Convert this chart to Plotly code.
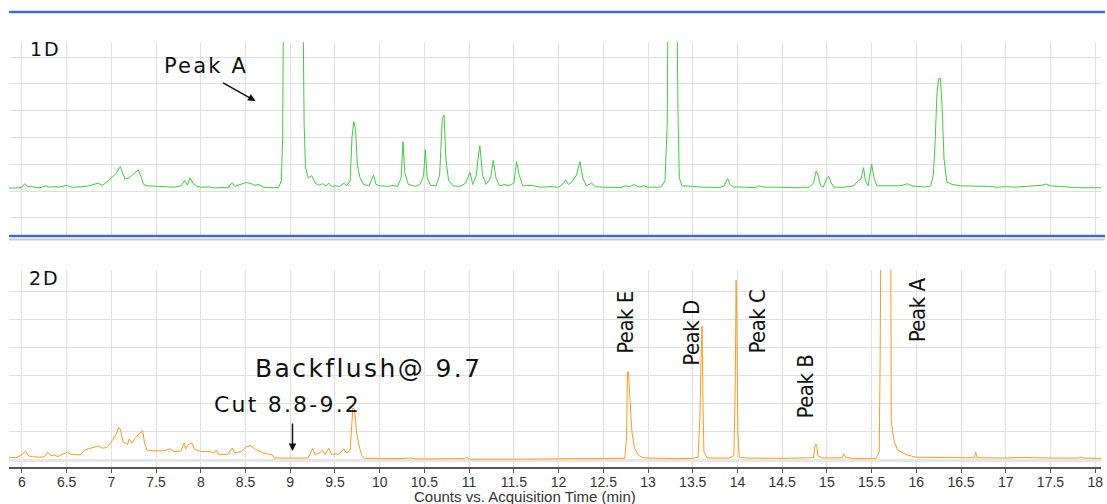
import plotly.graph_objects as go

# ---------------- data ----------------
# 1D chromatogram: time (min) and response (arbitrary units, gridline = 1)
t1 = [5.855, 5.95, 6.0, 6.03, 6.06, 6.12, 6.2, 6.27, 6.3, 6.36, 6.42, 6.5, 6.55, 6.65, 6.75, 6.85,
      6.9, 6.95, 7.0, 7.05, 7.1, 7.12, 7.15, 7.2, 7.25, 7.3, 7.33, 7.36, 7.4, 7.5, 7.6, 7.7,
      7.78, 7.82, 7.85, 7.88, 7.91, 7.95, 8.0, 8.1, 8.15, 8.25, 8.3, 8.35, 8.38, 8.45, 8.5, 8.55,
      8.6, 8.65, 8.7, 8.8, 8.87, 8.9, 8.915, 8.925, 9.14, 9.155, 9.17, 9.2, 9.24, 9.28, 9.32, 9.36,
      9.4, 9.43, 9.46, 9.5, 9.55, 9.6, 9.63, 9.67, 9.69, 9.71, 9.73, 9.75, 9.78, 9.82, 9.88, 9.93,
      9.96, 10.0, 10.1, 10.15, 10.2, 10.24, 10.26, 10.28, 10.32, 10.4, 10.45, 10.49, 10.51, 10.53,
      10.57, 10.63, 10.67, 10.7, 10.72, 10.74, 10.77, 10.82, 10.9, 10.96, 11.01, 11.04, 11.08, 11.11,
      11.12, 11.15, 11.19, 11.24, 11.27, 11.3, 11.34, 11.4, 11.44, 11.5, 11.53, 11.56, 11.6, 11.7,
      11.8, 11.9, 12.0, 12.05, 12.08, 12.11, 12.15, 12.2, 12.24, 12.27, 12.31, 12.37, 12.41, 12.5,
      12.6, 12.7, 12.75, 12.8, 12.84, 12.9, 12.95, 13.0, 13.1, 13.15, 13.19, 13.215, 13.225, 13.32,
      13.335, 13.35, 13.38, 13.45, 13.5, 13.6, 13.7, 13.8, 13.85, 13.89, 13.92, 13.96, 14.0, 14.1,
      14.2, 14.24, 14.3, 14.4, 14.5, 14.6, 14.7, 14.8, 14.85, 14.88, 14.9, 14.93, 14.96, 15.0,
      15.02, 15.05, 15.08, 15.15, 15.2, 15.3, 15.35, 15.38, 15.41, 15.43, 15.46, 15.5, 15.53, 15.56,
      15.6, 15.7, 15.8, 15.85, 15.9, 15.95, 16.0, 16.1, 16.16, 16.19, 16.21, 16.23, 16.25, 16.27,
      16.29, 16.31, 16.34, 16.4, 16.5, 16.6, 16.7, 16.8, 16.9, 17.0, 17.1, 17.3, 17.4, 17.45,
      17.5, 17.6, 17.7, 17.8, 18.0, 18.065]
v1 = [1.12, 1.12, 1.15, 1.28, 1.18, 1.15, 1.13, 1.2, 1.15, 1.17, 1.15, 1.22, 1.15, 1.16, 1.2, 1.3,
      1.22, 1.35, 1.5, 1.65, 1.92, 1.75, 1.45, 1.5, 1.65, 1.8, 1.55, 1.25, 1.2, 1.18, 1.17, 1.15,
      1.2, 1.4, 1.22, 1.5, 1.3, 1.2, 1.15, 1.16, 1.12, 1.14, 1.12, 1.32, 1.18, 1.25, 1.32, 1.3,
      1.22, 1.25, 1.15, 1.13, 1.14, 1.4, 3.0, 9.0, 9.0, 3.5, 1.9, 1.5, 1.58, 1.3, 1.22, 1.28,
      1.2, 1.3, 1.18, 1.2, 1.18, 1.3, 1.2, 1.4, 3.0, 3.6, 3.3, 2.0, 1.5, 1.25, 1.2, 1.6,
      1.25, 1.2, 1.18, 1.22, 1.18, 1.5, 2.85, 1.7, 1.25, 1.18, 1.25, 1.55, 2.55, 1.5,
      1.22, 1.2, 1.6, 3.7, 3.85, 2.2, 1.4, 1.2, 1.18, 1.3, 1.7, 1.25, 1.6, 2.5,
      2.7, 1.6, 1.25, 1.5, 2.15, 1.5, 1.2, 1.25, 1.2, 1.3, 2.1, 1.6, 1.2, 1.22,
      1.15, 1.17, 1.15, 1.28, 1.42, 1.25, 1.35, 1.6, 2.1, 1.5, 1.2, 1.3, 1.17, 1.15,
      1.15, 1.14, 1.2, 1.16, 1.25, 1.15, 1.2, 1.15, 1.15, 1.16, 1.4, 3.5, 9.0, 9.0,
      4.0, 1.5, 1.2, 1.2, 1.18, 1.15, 1.15, 1.14, 1.2, 1.47, 1.25, 1.15, 1.16, 1.15,
      1.13, 1.2, 1.15, 1.15, 1.14, 1.13, 1.13, 1.15, 1.3, 1.75, 1.6, 1.2, 1.15, 1.5,
      1.55, 1.3, 1.15, 1.15, 1.15, 1.2, 1.4, 1.45, 1.88, 1.4, 1.2, 2.0, 1.45, 1.2,
      1.2, 1.19, 1.2, 1.22, 1.28, 1.2, 1.18, 1.15, 1.2, 1.6, 2.8, 4.6, 5.2, 5.2,
      4.0, 2.2, 1.35, 1.25, 1.2, 1.2, 1.18, 1.18, 1.15, 1.17, 1.15, 1.18, 1.22, 1.27,
      1.2, 1.18, 1.15, 1.13, 1.13, 1.13]

# 2D chromatogram
t2 = [5.855, 5.95, 6.0, 6.04, 6.07, 6.12, 6.2, 6.25, 6.29, 6.32, 6.36, 6.4, 6.45, 6.51, 6.55, 6.65,
      6.7, 6.75, 6.8, 6.85, 6.9, 6.95, 7.0, 7.05, 7.08, 7.1, 7.13, 7.18, 7.2, 7.23, 7.27, 7.32,
      7.35, 7.37, 7.4, 7.5, 7.6, 7.65, 7.7, 7.78, 7.81, 7.83, 7.86, 7.9, 7.93, 8.0, 8.1, 8.15,
      8.17, 8.2, 8.3, 8.35, 8.38, 8.45, 8.5, 8.55, 8.6, 8.7, 8.8, 8.82, 9.2, 9.25, 9.28, 9.33,
      9.36, 9.39, 9.43, 9.46, 9.55, 9.6, 9.63, 9.67, 9.69, 9.7, 9.72, 9.74, 9.77, 9.8, 9.83, 10.0,
      10.1, 10.2, 10.35, 10.4, 10.6, 10.95, 10.97, 11.0, 11.5, 12.15, 12.4, 12.6, 12.74, 12.76,
      12.77, 12.78, 12.79, 12.8, 12.82, 12.85, 12.9, 12.95, 13.0, 13.3, 13.5, 13.56, 13.58, 13.595,
      13.605, 13.615, 13.625, 13.66, 13.9, 13.96, 13.975, 13.985, 13.995, 14.005, 14.02, 14.1, 14.5, 14.85,
      14.87, 14.885, 14.9, 14.95, 15.05, 15.17, 15.19, 15.21, 15.3, 15.55, 15.585, 15.595, 15.61, 15.71,
      15.72, 15.75, 15.79, 15.88, 15.99, 16.3, 16.65, 16.665, 16.68, 17.0, 17.15, 17.5, 17.82, 17.84,
      17.86, 18.065]
v2 = [0.08, 0.1, 0.2, 0.32, 0.15, 0.12, 0.1, 0.12, 0.28, 0.15, 0.18, 0.12, 0.2, 0.28, 0.2, 0.18,
      0.35, 0.4, 0.45, 0.5, 0.42, 0.45, 0.65, 0.9, 1.15, 1.1, 0.65, 0.55, 0.75, 0.6, 0.8, 0.95,
      1.05, 0.6, 0.35, 0.32, 0.33, 0.4, 0.3, 0.32, 0.6, 0.4, 0.55, 0.6, 0.38, 0.3, 0.3, 0.25,
      0.35, 0.2, 0.2, 0.42, 0.25, 0.3, 0.45, 0.52, 0.4, 0.25, 0.18, 0.07, 0.07, 0.4, 0.2, 0.25,
      0.35, 0.2, 0.42, 0.2, 0.22, 0.4, 0.25, 0.35, 1.5, 1.85, 1.8, 1.0, 0.5, 0.15, 0.06, 0.05,
      0.04, 0.05, 0.07, 0.04, 0.04, 0.05, 0.1, 0.03, 0.03, 0.05, 0.06, 0.06, 0.06, 0.8,
      3.1, 3.15, 2.5, 2.0, 1.0, 0.4, 0.15, 0.08, 0.07, 0.05, 0.06, 0.1, 1.5, 3.8,
      4.77, 2.0, 0.3, 0.07, 0.07, 0.15, 2.5, 6.4, 4.5, 1.0, 0.1, 0.07, 0.06, 0.08,
      0.55, 0.55, 0.15, 0.07, 0.08, 0.08, 0.22, 0.1, 0.05, 0.05, 0.3, 3.4, 12.0, 12.0,
      1.36, 0.7, 0.36, 0.2, 0.1, 0.08, 0.08, 0.28, 0.08, 0.07, 0.09, 0.07, 0.07, 0.12,
      0.07, 0.06]

tick_vals = [6, 6.5, 7, 7.5, 8, 8.5, 9, 9.5, 10, 10.5, 11, 11.5, 12, 12.5, 13, 13.5, 14, 14.5,
             15, 15.5, 16, 16.5, 17, 17.5, 18]
tick_text = ["6", "6.5", "7", "7.5", "8", "8.5", "9", "9.5", "10", "10.5", "11", "11.5", "12",
             "12.5", "13", "13.5", "14", "14.5", "15", "15.5", "16", "16.5", "17", "17.5", "18"]

peak_labels = ["Peak E", "Peak D", "Peak C", "Peak B", "Peak A"]
peak_label_x = [12.741, 13.478, 14.214, 14.75, 16.011]
peak_label_y = [4.911, 4.52, 4.911, 2.598, 5.338]

# ---------------- figure ----------------
GREEN = "#3fcc3f"
ORANGE = "#ff9a1a"
GRID = "#e0e0e0"
BLUE = "#3a6cc6"

fig = go.Figure()
fig.add_trace(go.Scatter(x=t1, y=v1, mode="lines", line=dict(color=GREEN, width=1),
                         xaxis="x", yaxis="y", hoverinfo="skip", showlegend=False))
fig.add_trace(go.Scatter(x=t2, y=v2, mode="lines", line=dict(color=ORANGE, width=1),
                         xaxis="x2", yaxis="y2", hoverinfo="skip", showlegend=False))

xdom = [9 / 1107, 1103 / 1107]
xr = [5.855, 18.065]

def spaced(txt, sp):
    return '<span style="letter-spacing:%spx">%s</span>' % (sp, txt)

LABEL_FONT = "DejaVu Sans, Verdana, sans-serif"
NARROW_FONT = "DejaVu Sans Condensed, Liberation Sans, sans-serif"

annotations = [
    dict(x=6.268, y=6.29, xref="x", yref="y", text=spaced("1D", 2), showarrow=False,
         font=dict(family=LABEL_FONT, size=19, color="#111")),
    dict(x=6.257, y=6.48, xref="x2", yref="y2", text=spaced("2D", 2), showarrow=False,
         font=dict(family=LABEL_FONT, size=19, color="#111")),
    dict(x=8.054, y=5.672, xref="x", yref="y", text=spaced("Peak A", 2.2), showarrow=False,
         font=dict(family=LABEL_FONT, size=21, color="#111")),
    dict(x=8.612, y=4.366, xref="x", yref="y", ax=8.232, ay=5.075, axref="x", ayref="y",
         text="", showarrow=True, arrowhead=2, arrowsize=1, arrowwidth=1.5, arrowcolor="#111"),
    dict(x=9.873, y=3.274, xref="x2", yref="y2", text=spaced("Backflush@ 9.7", 2.4), showarrow=False,
         font=dict(family=LABEL_FONT, size=25, color="#111")),
    dict(x=8.974, y=1.975, xref="x2", yref="y2", text=spaced("Cut 8.8-9.2", 2.2), showarrow=False,
         font=dict(family=LABEL_FONT, size=22, color="#111")),
    dict(x=9.025, y=0.32, xref="x2", yref="y2", ax=9.025, ay=1.352, axref="x2", ayref="y2",
         text="", showarrow=True, arrowhead=2, arrowsize=1, arrowwidth=1.5, arrowcolor="#111"),
    dict(x=526 / 1107, y=1 - 496.5 / 504, xref="paper", yref="paper",
         xanchor="center", yanchor="middle",
         text="Counts vs. Acquisition Time (min)", showarrow=False,
         font=dict(family="Liberation Sans, Arial, sans-serif", size=15, color="#333")),
]
for lab, lx, ly in zip(peak_labels, peak_label_x, peak_label_y):
    annotations.append(dict(x=lx, y=ly, xref="x2", yref="y2", text=spaced(lab, -0.5), textangle=-90,
                            showarrow=False, xanchor="center", yanchor="middle",
                            font=dict(family=NARROW_FONT, size=22, color="#111")))

shapes = [
    dict(type="line", xref="paper", yref="paper", x0=9 / 1107, x1=1, y0=1 - 12 / 504, y1=1 - 12 / 504,
         line=dict(color=BLUE, width=2.5)),
    dict(type="line", xref="paper", yref="paper", x0=9 / 1107, x1=1, y0=1 - 239.5 / 504, y1=1 - 239.5 / 504,
         line=dict(color="#c9c9c9", width=2)),
    dict(type="line", xref="paper", yref="paper", x0=9 / 1107, x1=1, y0=1 - 236 / 504, y1=1 - 236 / 504,
         line=dict(color=BLUE, width=2.5)),
]

fig.update_layout(
    width=1107, height=504, margin=dict(l=0, r=0, t=0, b=0),
    paper_bgcolor="white", plot_bgcolor="white", showlegend=False,
    xaxis=dict(domain=xdom, range=xr, anchor="y", tickvals=tick_vals, showticklabels=False,
               showgrid=True, gridcolor=GRID, gridwidth=1, zeroline=False, ticks="", showline=False),
    yaxis=dict(domain=[1 - 236 / 504, 1 - 42 / 504], range=[-0.672, 6.567], tick0=0, dtick=1,
               showticklabels=False, showgrid=True, gridcolor=GRID, zeroline=False, anchor="x"),
    xaxis2=dict(domain=xdom, range=xr, anchor="y2", tickvals=tick_vals, ticktext=tick_text,
                showgrid=True, gridcolor=GRID, zeroline=False, ticks="outside", ticklen=4,
                tickcolor="#555", showline=True, linecolor="#555", linewidth=1.5,
                ticklabelstandoff=-3,
                tickfont=dict(family="Liberation Sans, Arial, sans-serif", size=14, color="#333")),
    yaxis2=dict(domain=[1 - 467 / 504, 1 - 270 / 504], range=[-0.249, 6.762], tick0=0, dtick=1,
                showticklabels=False, showgrid=True, gridcolor=GRID, zeroline=True,
                zerolinecolor="#e6e6e6", zerolinewidth=3, anchor="x2"),
    annotations=annotations, shapes=shapes,
)

fig.write_html("out.html")
